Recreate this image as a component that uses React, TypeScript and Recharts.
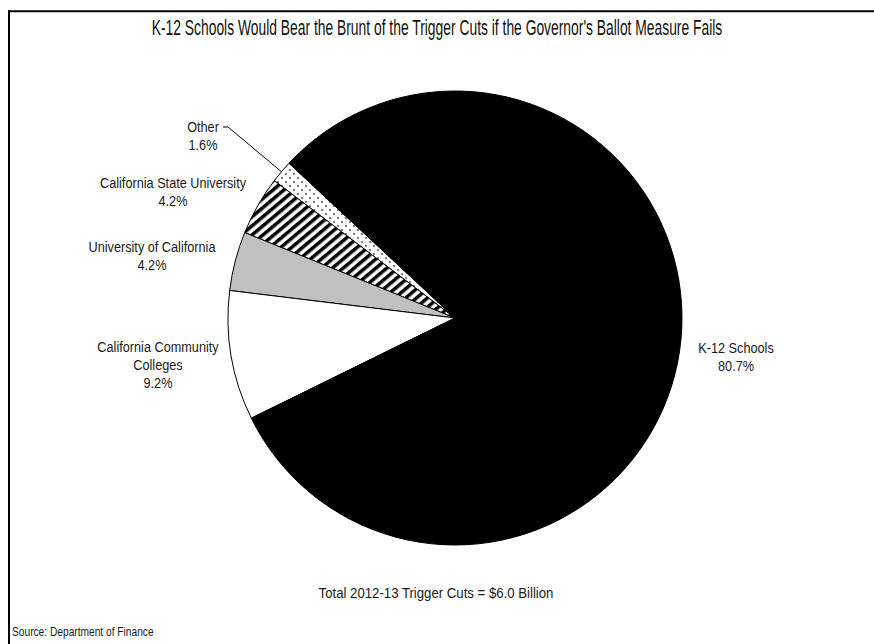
import { Cell, Pie, PieChart } from "recharts";

const categories = [
  "Other",
  "California State University",
  "University of California",
  "California Community Colleges",
  "K-12 Schools",
];
const shares = [1.6, 4.2, 4.2, 9.2, 80.7];
const labelLines = [
  ["Other", "1.6%"],
  ["California State University", "4.2%"],
  ["University of California", "4.2%"],
  ["California Community", "Colleges", "9.2%"],
  ["K-12 Schools", "80.7%"],
];

const chartTitle = "K-12 Schools Would Bear the Brunt of the Trigger Cuts if the Governor's Ballot Measure Fails";
const totalNote = "Total 2012-13 Trigger Cuts = $6.0 Billion";
const sourceNote = "Source: Department of Finance";

const data = categories.map((name, i) => ({ name, value: shares[i] }));

// layout / styling (not data)
const sliceFills = ["url(#dots)", "url(#stripes)", "#c0c0c0", "#ffffff", "#000000"];
const labelSpots = [
  { dx: -252, dy: -191 },
  { dx: -282, dy: -135 },
  { dx: -303, dy: -71 },
  { dx: -297, dy: 29 },
  { dx: 281, dy: 30 },
];
const FONT = "'Liberation Sans', Arial, sans-serif";
const RAD = Math.PI / 180;

// there is no narrow font installed, so squeeze a regular one
function NarrowText({ x, y, size, squeeze, anchor = "middle", color = "#1a1a1a", children }: any) {
  return (
    <text
      transform={`translate(${x},${y}) scale(${squeeze},1)`}
      textAnchor={anchor}
      dominantBaseline="central"
      fontFamily={FONT}
      fontSize={size}
      fill={color}
    >
      {children}
    </text>
  );
}

function SliceLabel(props: any) {
  const { cx, cy, midAngle, outerRadius, index } = props;
  const spot = labelSpots[index];
  const lines = labelLines[index];
  const x = cx + spot.dx;
  const y = cy + spot.dy;
  let leader = null;
  if (index === 0) {
    const ex = cx + outerRadius * Math.cos(-midAngle * RAD);
    const ey = cy + outerRadius * Math.sin(-midAngle * RAD);
    leader = (
      <polyline
        points={`${ex},${ey} ${x + 25},${y} ${x + 20},${y}`}
        fill="none"
        stroke="#000"
        strokeWidth={1}
      />
    );
  }
  return (
    <g>
      {leader}
      {lines.map((line, k) => (
        <NarrowText key={k} x={x} y={y + k * 18} size={15.5} squeeze={0.82}>
          {line}
        </NarrowText>
      ))}
    </g>
  );
}

export default function App() {
  return (
    <div style={{ width: 874, height: 644, padding: 8, boxSizing: "border-box", overflow: "hidden" }}>
      <style>{"body{margin:0;overflow:hidden}"}</style>
      <PieChart width={866} height={636}>
        <defs>
          <pattern id="stripes" width="7" height="7" patternUnits="userSpaceOnUse" patternTransform="rotate(-40)">
            <rect width="7" height="7" fill="#fff" />
            <rect width="7" height="3.5" fill="#000" />
          </pattern>
          <pattern id="dots" width="8" height="8" patternUnits="userSpaceOnUse">
            <rect width="8" height="8" fill="#fff" />
            <circle cx="2" cy="2" r="0.9" fill="#444" />
            <circle cx="6" cy="6" r="0.9" fill="#444" />
          </pattern>
        </defs>
        <line x1={0} y1={3.3} x2={866} y2={3.3} stroke="#000" strokeWidth={2} />
        <line x1={1} y1={2.3} x2={1} y2={636} stroke="#000" strokeWidth={2} />
        <NarrowText x={429} y={19} size={22} squeeze={0.63} color="#111">
          {chartTitle}
        </NarrowText>
        <Pie
          data={data}
          dataKey="value"
          nameKey="name"
          cx={442}
          cy={305}
          outerRadius={227}
          startAngle={137}
          endAngle={497}
          stroke="#000"
          strokeWidth={1}
          label={SliceLabel}
          labelLine={false}
          isAnimationActive={false}
        >
          {data.map((d, i) => (
            <Cell key={d.name} fill={sliceFills[i]} />
          ))}
        </Pie>
        <NarrowText x={428} y={585} size={15} squeeze={0.88}>
          {totalNote}
        </NarrowText>
        <NarrowText x={4} y={624} size={12} squeeze={0.85} anchor="start">
          {sourceNote}
        </NarrowText>
      </PieChart>
    </div>
  );
}
